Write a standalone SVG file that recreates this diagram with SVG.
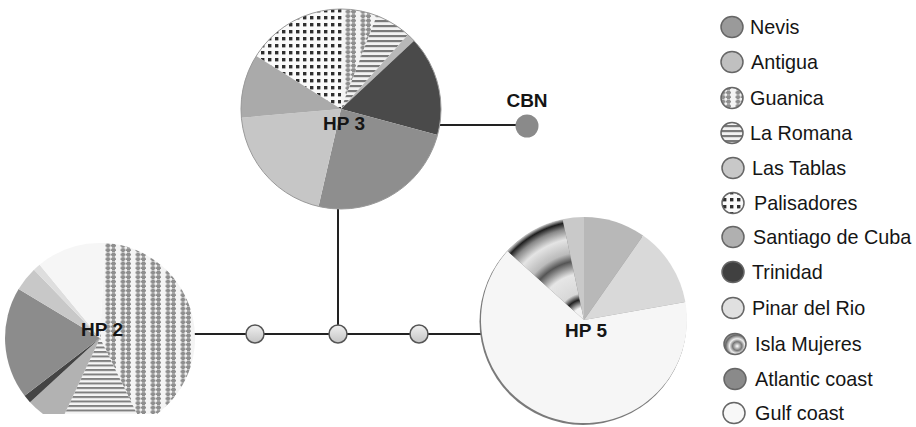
<svg xmlns="http://www.w3.org/2000/svg" width="916" height="427" viewBox="0 0 916 427">
<style>
  .lbl { font-family: "Liberation Sans", Arial, sans-serif; font-weight: bold; font-size: 19px; fill: #151515; text-anchor: middle; }
  .leg { font-family: "Liberation Sans", Arial, sans-serif; font-size: 19.8px; fill: #151515; }
  .edge { stroke: #222; stroke-width: 2; fill: none; }
  .mv { fill: url(#mvGrad); stroke: #555; stroke-width: 1.5; }
  .licon { stroke: #666; stroke-width: 1.5; }
  .rim { fill: none; stroke: #9a9a9a; stroke-width: 1; }
</style>
<defs>
  <pattern id="pGuanica" patternUnits="userSpaceOnUse" width="15" height="4.5">
    <rect width="15" height="4.5" fill="#f4f4f4"/>
    <path d="M1.5 0.5h3v1h1v2h-1v1h-3v-1h-1v-2h1z M7 0.5h3v1h1v2h-1v1h-3v-1h-1v-2h1z" fill="#8e8e8e"/>
  </pattern>
  <pattern id="pPalis" patternUnits="userSpaceOnUse" width="7" height="7">
    <rect width="7" height="7" fill="#fafafa"/>
    <rect x="2" y="2" width="3.4" height="3.4" fill="#2e2e2e"/>
  </pattern>
  <pattern id="pStripes" patternUnits="userSpaceOnUse" width="5" height="5">
    <rect width="5" height="5" fill="#f2f2f2"/>
    <rect y="0" width="5" height="2.2" fill="#7a7a7a"/>
  </pattern>
  <pattern id="pStripesL" patternUnits="userSpaceOnUse" width="5" height="4.5">
    <rect width="5" height="4.5" fill="#f6f6f6"/>
    <rect y="0" width="5" height="2" fill="#808080"/>
  </pattern>
  <radialGradient id="gIsla" gradientUnits="userSpaceOnUse" cx="584" cy="320" r="103">
    <stop offset="0" stop-color="#eee"/>
    <stop offset="0.12" stop-color="#f2f2f2"/>
    <stop offset="0.2" stop-color="#222"/>
    <stop offset="0.26" stop-color="#d8d8d8"/>
    <stop offset="0.45" stop-color="#e6e6e6"/>
    <stop offset="0.58" stop-color="#555"/>
    <stop offset="0.66" stop-color="#bbb"/>
    <stop offset="0.8" stop-color="#e4e4e4"/>
    <stop offset="0.9" stop-color="#888"/>
    <stop offset="0.96" stop-color="#1e1e1e"/>
    <stop offset="1" stop-color="#ccc"/>
  </radialGradient>
  <radialGradient id="gIslaIcon" cx="0.6" cy="0.6" r="0.7">
    <stop offset="0" stop-color="#fff"/>
    <stop offset="0.3" stop-color="#777"/>
    <stop offset="0.5" stop-color="#eee"/>
    <stop offset="0.75" stop-color="#666"/>
    <stop offset="1" stop-color="#ddd"/>
  </radialGradient>
  <linearGradient id="mvGrad" x1="0" y1="0" x2="0" y2="1">
    <stop offset="0" stop-color="#f0f0f0"/>
    <stop offset="1" stop-color="#c4c4c4"/>
  </linearGradient>
  <clipPath id="clipHP2"><rect x="0" y="230" width="210" height="184"/></clipPath>
</defs>

<g id="connectors">
  <line class="edge" x1="440" y1="125" x2="516" y2="125"/>
  <line class="edge" x1="338" y1="208" x2="338" y2="334"/>
  <line class="edge" x1="194" y1="334" x2="482" y2="334"/>
</g>

<g id="hp3">
  <path d="M341 109 L256.2 56 A100 100 0 0 1 342.7 9 Z" fill="url(#pPalis)"/>
  <path d="M341 109 L342.7 9 A100 100 0 0 1 376.8 15.6 Z" fill="url(#pGuanica)"/>
  <path d="M341 109 L376.8 15.6 A100 100 0 0 1 407.9 34.7 Z" fill="url(#pStripes)"/>
  <path d="M341 109 L407.9 34.7 A100 100 0 0 1 414.1 40.8 Z" fill="#b8b8b8"/>
  <path d="M341 109 L414.1 40.8 A100 100 0 0 1 437.6 134.9 Z" fill="#4a4a4a"/>
  <path d="M341 109 L437.6 134.9 A100 100 0 0 1 318.5 206.4 Z" fill="#8e8e8e"/>
  <path d="M341 109 L318.5 206.4 A100 100 0 0 1 241.4 117.7 Z" fill="#c6c6c6"/>
  <path d="M341 109 L241.4 117.7 A100 100 0 0 1 256.2 56 Z" fill="#aaaaaa"/>
  <circle class="rim" cx="341" cy="109" r="100"/>
  <text class="lbl" x="344" y="130">HP 3</text>
</g>

<g id="hp2" clip-path="url(#clipHP2)">
  <path d="M100 338 L105 243.1 A95 95 0 0 1 141.6 423.4 Z" fill="url(#pGuanica)"/>
  <path d="M100 338 L141.6 423.4 A95 95 0 0 1 59.9 424.1 Z" fill="url(#pStripesL)"/>
  <path d="M100 338 L59.9 424.1 A95 95 0 0 1 30 402.2 Z" fill="#b2b2b2"/>
  <path d="M100 338 L30 402.2 A95 95 0 0 1 24.6 395.8 Z" fill="#444"/>
  <path d="M100 338 L24.6 395.8 A95 95 0 0 1 18.6 289.1 Z" fill="#8c8c8c"/>
  <path d="M100 338 L18.6 289.1 A95 95 0 0 1 34 269.7 Z" fill="#c8c8c8"/>
  <path d="M100 338 L34 269.7 A95 95 0 0 1 39.6 264.7 Z" fill="#dedede"/>
  <path d="M100 338 L39.6 264.7 A95 95 0 0 1 105 243.1 Z" fill="#f6f6f6"/>
  <text class="lbl" x="102" y="336">HP 2</text>
</g>

<g id="hp5">
  <circle cx="583" cy="321.5" r="103.5" fill="#7a7a7a"/>
  <path d="M584 320 L584 217 A103 103 0 0 1 643.1 235.6 Z" fill="#b8b8b8"/>
  <path d="M584 320 L643.1 235.6 A103 103 0 0 1 685.4 302.1 Z" fill="#d9d9d9"/>
  <path d="M584 320 L685.4 302.1 A103 103 0 1 1 507.5 251.1 Z" fill="#f6f6f6"/>
  <path d="M584 320 L507.5 251.1 A103 103 0 0 1 562.6 219.3 Z" fill="url(#gIsla)"/>
  <path d="M584 320 L562.6 219.3 A103 103 0 0 1 584 217 Z" fill="#c9c9c9"/>
  <text class="lbl" x="586" y="337">HP 5</text>
</g>

<g id="cbn">
  <circle cx="527" cy="126" r="11.5" fill="#8a8a8a"/>
  <text class="lbl" x="527" y="107">CBN</text>
</g>

<g id="mv1"><circle class="mv" cx="255" cy="334" r="9"/></g>
<g id="mv2"><circle class="mv" cx="338" cy="334" r="9"/></g>
<g id="mv3"><circle class="mv" cx="419" cy="334" r="9"/></g>

<g id="legend">
  <g id="leg-nevis"><ellipse class="licon" cx="732" cy="27" rx="11" ry="10.5" fill="#9a9a9a"/><text class="leg" x="750" y="34">Nevis</text></g>
  <g id="leg-antigua"><ellipse class="licon" cx="732" cy="62" rx="11" ry="10.5" fill="#c0c0c0"/><text class="leg" x="751" y="69">Antigua</text></g>
  <g id="leg-guanica"><ellipse class="licon" cx="732" cy="98" rx="11" ry="10.5" fill="url(#pGuanica)"/><text class="leg" x="750" y="105">Guanica</text></g>
  <g id="leg-laromana"><ellipse class="licon" cx="732" cy="133" rx="11" ry="10.5" fill="url(#pStripes)"/><text class="leg" x="750" y="140">La Romana</text></g>
  <g id="leg-lastablas"><ellipse class="licon" cx="733" cy="168" rx="11" ry="10.5" fill="#c8c8c8"/><text class="leg" x="752" y="175">Las Tablas</text></g>
  <g id="leg-palisadores"><ellipse class="licon" cx="733" cy="203" rx="11" ry="10.5" fill="url(#pPalis)"/><text class="leg" x="754" y="210">Palisadores</text></g>
  <g id="leg-santiago"><ellipse class="licon" cx="733" cy="237" rx="11" ry="10.5" fill="#b0b0b0"/><text class="leg" x="753" y="244">Santiago de Cuba</text></g>
  <g id="leg-trinidad"><ellipse class="licon" cx="733" cy="272" rx="11" ry="10.5" fill="#404040"/><text class="leg" x="752" y="279">Trinidad</text></g>
  <g id="leg-pinar"><ellipse class="licon" cx="733" cy="308" rx="11" ry="10.5" fill="#e0e0e0"/><text class="leg" x="752" y="315">Pinar del Rio</text></g>
  <g id="leg-isla"><ellipse class="licon" cx="735" cy="344" rx="11" ry="10.5" fill="url(#gIslaIcon)"/><text class="leg" x="755" y="351">Isla Mujeres</text></g>
  <g id="leg-atlantic"><ellipse class="licon" cx="735" cy="379" rx="11" ry="10.5" fill="#8a8a8a"/><text class="leg" x="755" y="386">Atlantic coast</text></g>
  <g id="leg-gulf"><ellipse class="licon" cx="734" cy="413" rx="11" ry="10.5" fill="#f8f8f8"/><text class="leg" x="755" y="420">Gulf coast</text></g>
</g>
</svg>
